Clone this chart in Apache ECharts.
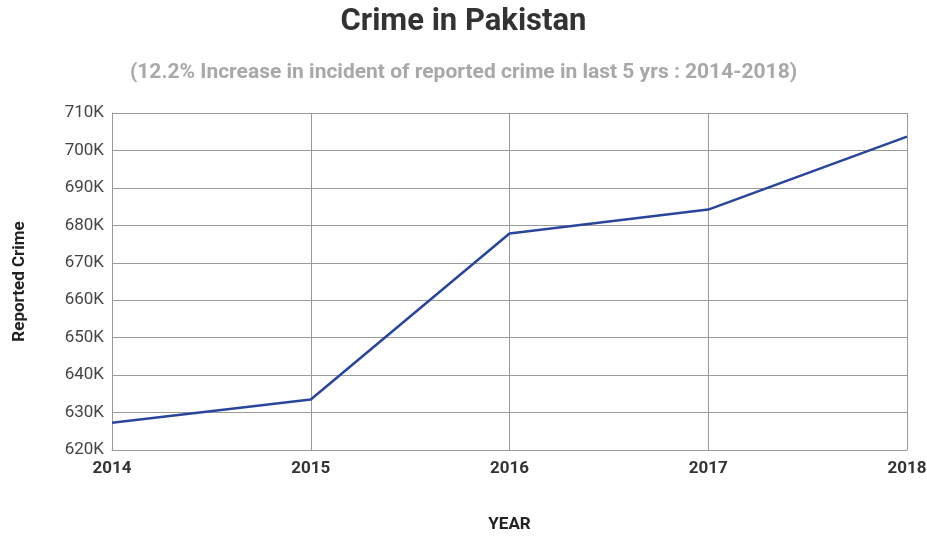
<!DOCTYPE html>
<html>
<head>
<meta charset="utf-8">
<script src="https://cdn.jsdelivr.net/npm/echarts@6/dist/echarts.min.js"></script>
<style>
  html, body { margin: 0; padding: 0; background: #fff; }
  #chart { width: 927px; height: 536px; }
</style>
</head>
<body>
<div id="chart"></div>
<script>
const years = ['2014', '2015', '2016', '2017', '2018']
const reportedCrime = [627300, 633500, 677800, 684200, 703700]
const yMin = 620000
const yMax = 710000
const yStep = 10000

const chart = echarts.init(document.getElementById('chart'))

chart.setOption({
  animation: false,
  textStyle: { fontFamily: 'Roboto' },
  title: [
    {
      text: 'Crime in Pakistan',
      left: 'center',
      top: 2,
      textStyle: { fontSize: 31, fontWeight: 'bold', color: '#333', fontFamily: 'Roboto' }
    },
    {
      text: '(12.2% Increase in incident of reported crime in last 5 yrs : 2014-2018)',
      left: 'center',
      top: 57,
      textStyle: { fontSize: 21, fontWeight: 'bold', color: '#a8a8a8', fontFamily: 'Roboto' }
    }
  ],
  grid: { left: 112, right: 20, top: 113, bottom: 86, outerBoundsMode: 'none' },
  xAxis: {
    type: 'category',
    data: years,
    boundaryGap: false,
    name: 'YEAR',
    nameLocation: 'middle',
    nameGap: 66,
    nameTextStyle: { fontSize: 17, fontWeight: 'bold', color: '#222' },
    axisLine: { show: true, lineStyle: { color: '#9a9a9a', width: 1 } },
    axisTick: { show: false },
    axisLabel: { fontSize: 17, fontWeight: 'bold', color: '#333', margin: 10 },
    splitLine: { show: true, lineStyle: { color: '#9a9a9a', width: 1 } }
  },
  yAxis: {
    type: 'value',
    min: yMin,
    max: yMax,
    interval: yStep,
    name: 'Reported Crime',
    nameLocation: 'middle',
    nameGap: 84,
    nameTextStyle: { fontSize: 17, fontWeight: 'bold', color: '#222' },
    axisLine: { show: true, lineStyle: { color: '#9a9a9a' } },
    axisTick: { show: false },
    axisLabel: {
      fontSize: 17,
      color: '#444',
      margin: 8,
      formatter: v => (v / 1000) + 'K'
    },
    splitLine: { show: true, lineStyle: { color: '#9a9a9a', width: 1 } }
  },
  series: [
    {
      type: 'line',
      data: reportedCrime,
      symbol: 'none',
      lineStyle: { color: '#2a469c', width: 2.5 }
    }
  ]
})
</script>
</body>
</html>
